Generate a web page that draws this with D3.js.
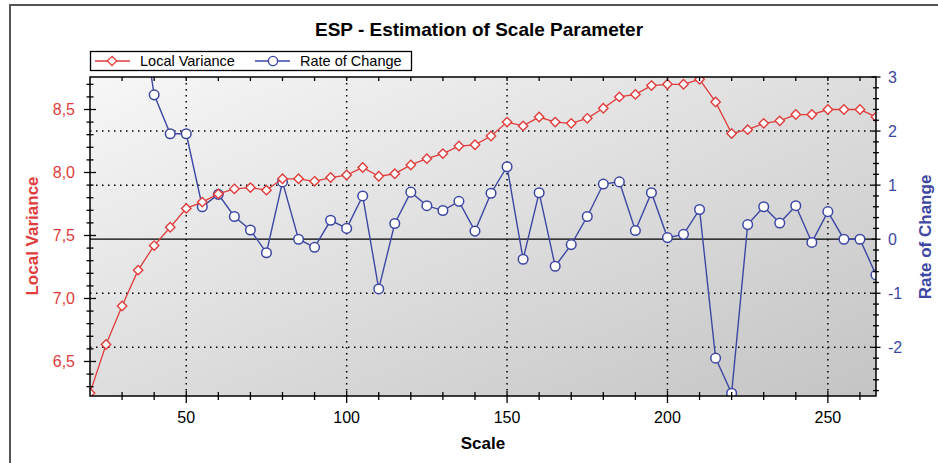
<!DOCTYPE html>
<html>
<head>
<meta charset="utf-8">
<script src="https://cdn.jsdelivr.net/npm/d3@7"></script>
<style>
body{margin:0;background:#fff;}
svg{display:block;font-family:"Liberation Sans",Arial,sans-serif;}
</style>
</head>
<body>
<div id="chart"></div>
<script>
// data
const scales = [20,25,30,35,40,45,50,55,60,65,70,75,80,85,90,95,100,105,110,115,120,125,130,135,140,145,150,155,160,165,170,175,180,185,190,195,200,205,210,215,220,225,230,235,240,245,250,255,260,265];
const localVariance = [6.25,6.635,6.94,7.225,7.42,7.565,7.715,7.765,7.83,7.87,7.88,7.86,7.95,7.95,7.93,7.96,7.98,8.04,7.97,7.99,8.06,8.11,8.15,8.21,8.22,8.29,8.40,8.37,8.44,8.40,8.39,8.43,8.51,8.60,8.62,8.69,8.70,8.70,8.74,8.56,8.31,8.34,8.39,8.41,8.46,8.46,8.50,8.50,8.50,8.44];
const rateOfChange = [null,null,null,4.6,2.67,1.95,1.95,0.60,0.83,0.42,0.17,-0.25,1.06,0.0,-0.15,0.35,0.20,0.80,-0.92,0.29,0.87,0.62,0.53,0.70,0.15,0.85,1.34,-0.37,0.86,-0.50,-0.10,0.42,1.02,1.06,0.16,0.86,0.03,0.09,0.55,-2.20,-2.85,0.27,0.60,0.30,0.62,-0.06,0.51,0.0,0.0,-0.66];
const leftTicks = [6.5,7,7.5,8,8.5];
const rightTicks = [-2,-1,0,1,2,3];
const bottomTicks = [50,100,150,200,250];
const seriesNames = ['Local Variance','Rate of Change'];

const red = '#e03c3c', blue = '#3d47a3';
const width = 938, height = 463;
const margin = {t:77,r:62,b:67,l:90};
const w = width - margin.l - margin.r;
const h = height - margin.t - margin.b;

const svg = d3.select('#chart').append('svg')
	.attr('width',width)
	.attr('height',height);

//outer frame (top & left visible)
svg.append('path')
	.attr('d',`M10,${height}V5H${width}`)
	.style('fill','none').style('stroke','#555').style('stroke-width',2);

//title
svg.append('text')
	.attr('x',479).attr('y',36)
	.attr('text-anchor','middle')
	.style('font-weight','bold').style('font-size','19px')
	.text('ESP - Estimation of Scale Parameter');

const defs = svg.append('defs');
const grad = defs.append('linearGradient').attr('id','bg')
	.attr('x1',0).attr('y1',0).attr('x2',1).attr('y2',1);
grad.append('stop').attr('offset','0%').attr('stop-color','#f7f7f7');
grad.append('stop').attr('offset','100%').attr('stop-color','#c4c4c4');
defs.append('clipPath').attr('id','clip')
	.append('rect').attr('width',w).attr('height',h);

const plot = svg.append('g')
	.attr('transform',`translate(${margin.l},${margin.t})`);

//scales
const scaleX = d3.scaleLinear().domain([20,265]).range([0,w]);
const scaleYL = d3.scaleLinear().domain([6.226,8.758]).range([h,0]);
const scaleYR = d3.scaleLinear().domain([-2.9,3.0]).range([h,0]);

plot.append('rect').attr('width',w).attr('height',h).style('fill','url(#bg)');

//grid
const grid = plot.append('g').attr('class','grid');
grid.selectAll('.gx').data(bottomTicks).enter().append('line')
	.attr('x1',d=>scaleX(d)).attr('x2',d=>scaleX(d))
	.attr('y1',0).attr('y2',h);
grid.selectAll('.gy').data(rightTicks.filter(d=>d!==0 && d!==3)).enter().append('line')
	.attr('x1',0).attr('x2',w)
	.attr('y1',d=>scaleYR(d)).attr('y2',d=>scaleYR(d));
grid.selectAll('line')
	.style('stroke','#000').style('stroke-width',1.5)
	.style('stroke-dasharray','1.5 4.5');
plot.append('line')
	.attr('x1',0).attr('x2',w)
	.attr('y1',scaleYR(0)).attr('y2',scaleYR(0))
	.style('stroke','#000').style('stroke-width',1.3);

//series
const rows = scales.map((s,i)=>({s:s,lv:localVariance[i],rc:rateOfChange[i]}));
const series = plot.append('g').attr('clip-path','url(#clip)');

const lineRC = d3.line().defined(d=>d.rc!==null).x(d=>scaleX(d.s)).y(d=>scaleYR(d.rc));
const lineLV = d3.line().x(d=>scaleX(d.s)).y(d=>scaleYL(d.lv));

series.append('path').datum(rows).attr('d',lineRC)
	.style('fill','none').style('stroke',blue).style('stroke-width',1.4);
series.selectAll('.rc').data(rows.filter(d=>d.rc!==null)).enter().append('circle')
	.attr('class','rc')
	.attr('cx',d=>scaleX(d.s)).attr('cy',d=>scaleYR(d.rc)).attr('r',4.8)
	.style('fill','#fff').style('stroke',blue).style('stroke-width',1.5);

series.append('path').datum(rows).attr('d',lineLV)
	.style('fill','none').style('stroke',red).style('stroke-width',1.3);
const diamond = 'M0,-4.7L4.7,0L0,4.7L-4.7,0Z';
series.selectAll('.lv').data(rows).enter().append('path')
	.attr('class','lv')
	.attr('d',diamond)
	.attr('transform',d=>`translate(${scaleX(d.s)},${scaleYL(d.lv)})`)
	.style('fill','#fff').style('stroke',red).style('stroke-width',1.4);

//frame
plot.append('rect').attr('width',w).attr('height',h)
	.style('fill','none').style('stroke','#000').style('stroke-width',1.5);

//ticks helper: crossing tick marks
function marks(g, vals, pos, orient, a, b){
	g.selectAll(null).data(vals).enter().append('line')
		.attr(orient==='v'?'y1':'x1',d=>pos(d)).attr(orient==='v'?'y2':'x2',d=>pos(d))
		.attr(orient==='v'?'x1':'y1',a).attr(orient==='v'?'x2':'y2',b)
		.style('stroke','#000').style('stroke-width',1.3);
}
const fmt = d3.formatLocale({decimal:',',thousands:'.',grouping:[3],currency:['','']}).format('.1f');

//left axis
const axL = plot.append('g');
marks(axL, d3.range(6.3,8.75,0.1).map(d=>+d.toFixed(1)).filter(d=>leftTicks.indexOf(d)<0), scaleYL,'v',-3.5,3.5);
marks(axL, leftTicks, scaleYL,'v',-6,6);
axL.selectAll('.lt').data(leftTicks).enter().append('text')
	.attr('x',-15).attr('y',d=>scaleYL(d)).attr('dy','0.35em')
	.attr('text-anchor','end')
	.style('fill',red).style('font-size','16px')
	.text(d=>fmt(d));

//right axis
const axR = plot.append('g').attr('transform',`translate(${w},0)`);
marks(axR, d3.range(-2.8,3,0.2).map(d=>+d.toFixed(1)).filter(d=>rightTicks.indexOf(d)<0), scaleYR,'v',-3,3);
marks(axR, rightTicks, scaleYR,'v',-4.5,4.5);
axR.selectAll('.rt').data(rightTicks).enter().append('text')
	.attr('x',12).attr('y',d=>scaleYR(d)).attr('dy','0.35em')
	.style('fill',blue).style('font-size','16px')
	.text(d=>d);

//bottom + top axis
const axB = plot.append('g').attr('transform',`translate(0,${h})`);
marks(axB, d3.range(30,265,10).filter(d=>bottomTicks.indexOf(d)<0), scaleX,'h',-4,4);
marks(axB, bottomTicks, scaleX,'h',-5,7);
axB.selectAll('.bt').data(bottomTicks).enter().append('text')
	.attr('x',d=>scaleX(d)).attr('y',27)
	.attr('text-anchor','middle')
	.style('font-size','16px')
	.text(d=>d);
const axT = plot.append('g');
marks(axT, d3.range(30,265,10), scaleX,'h',0,4);

//axis titles
svg.append('text')
	.attr('transform',`translate(38,236) rotate(-90)`)
	.attr('text-anchor','middle')
	.style('fill',red).style('font-weight','bold').style('font-size','17px')
	.text(seriesNames[0]);
svg.append('text')
	.attr('transform',`translate(931,237) rotate(-90)`)
	.attr('text-anchor','middle')
	.style('fill',blue).style('font-weight','bold').style('font-size','17px')
	.text(seriesNames[1]);
svg.append('text')
	.attr('x',483).attr('y',449)
	.attr('text-anchor','middle')
	.style('font-weight','bold').style('font-size','17px')
	.text('Scale');

//legend
const legend = svg.append('g');
legend.append('rect').attr('x',90.5).attr('y',51.5).attr('width',321).attr('height',19)
	.style('fill','#fff').style('stroke','#000').style('stroke-width',1.3);
const items = [
	{name:seriesNames[0],color:red,x:95,shape:'d'},
	{name:seriesNames[1],color:blue,x:255,shape:'c'}
];
items.forEach(it=>{
	legend.append('line').attr('x1',it.x).attr('x2',it.x+35).attr('y1',61).attr('y2',61)
		.style('stroke',it.color).style('stroke-width',1.3);
	if(it.shape==='d'){
		legend.append('path').attr('d',diamond).attr('transform',`translate(${it.x+17},61)`)
			.style('fill','#fff').style('stroke',it.color).style('stroke-width',1.3);
	} else {
		legend.append('circle').attr('cx',it.x+18).attr('cy',61).attr('r',4.6)
			.style('fill','#fff').style('stroke',it.color).style('stroke-width',1.4);
	}
	legend.append('text').attr('x',it.x+45).attr('y',66)
		.style('font-size','14.5px').text(it.name);
});
</script>
</body>
</html>
